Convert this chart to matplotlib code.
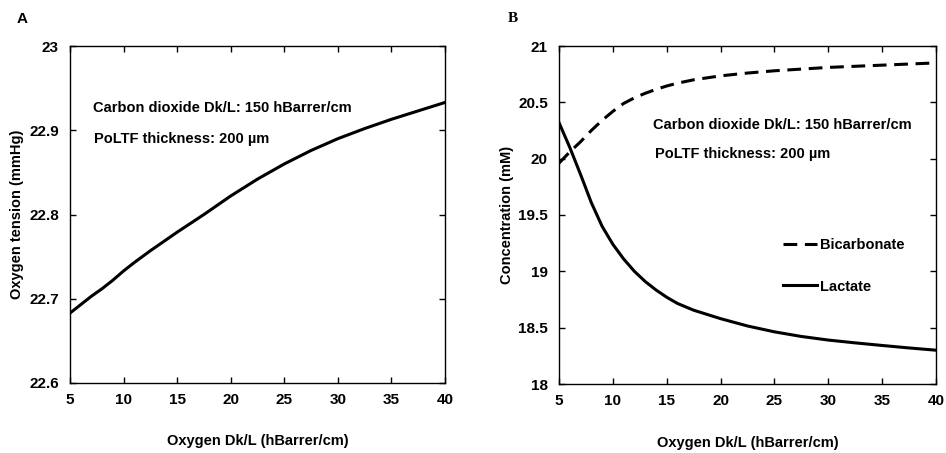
import numpy as np
import matplotlib
matplotlib.use('Agg')
import matplotlib.pyplot as plt

plt.rcParams['font.family'] = ['Liberation Sans', 'DejaVu Sans']
plt.rcParams['font.weight'] = 'bold'

# 数据
dk_a = [5, 6, 7, 8, 9, 10, 11, 12.5, 15, 17.5, 20, 22.5, 25, 27.5, 30, 32.5, 35, 37.5, 40]
o2_tension = [22.683, 22.693, 22.703, 22.712, 22.722, 22.733, 22.743, 22.757, 22.779,
              22.800, 22.822, 22.842, 22.860, 22.876, 22.890, 22.902, 22.913, 22.923, 22.933]

dk_b = [5, 6, 7, 8, 9, 10, 11, 12, 13, 14, 15, 16, 17.5, 20, 22.5, 25, 27.5, 30, 32.5, 35, 37.5, 40]
lactate = [20.32, 20.10, 19.86, 19.61, 19.40, 19.24, 19.11, 19.00, 18.91, 18.835, 18.77, 18.715,
           18.655, 18.58, 18.515, 18.463, 18.422, 18.39, 18.365, 18.342, 18.32, 18.30]
bicarbonate = [19.96, 20.06, 20.15, 20.25, 20.34, 20.42, 20.49, 20.54, 20.58, 20.615, 20.645, 20.67,
               20.70, 20.735, 20.76, 20.78, 20.795, 20.81, 20.82, 20.83, 20.84, 20.85]

note1 = 'Carbon dioxide Dk/L: 150 hBarrer/cm'
note2 = 'PoLTF thickness: 200 µm'

fig = plt.figure(figsize=(9.46, 4.53), dpi=100)
W, H = 946, 453
axA = fig.add_axes([70 / W, 1 - 383 / H, 375 / W, 337 / H])
axB = fig.add_axes([559 / W, 1 - 384 / H, 377 / W, 338 / H])

for ax in (axA, axB):
    ax.tick_params(direction='in', top=True, right=True, length=4, width=1,
                   labelsize=11)
    ax.tick_params(axis='y', pad=8)
    ax.tick_params(axis='x', pad=7)
    for s in ax.spines.values():
        s.set_linewidth(1.0)
    ax.set_xlim(5, 40)
    ax.set_xticks(range(5, 45, 5))
    ax.set_xlabel('Oxygen Dk/L (hBarrer/cm)', fontsize=10.5, fontweight='bold', labelpad=20)

# 图 A
axA.plot(dk_a, o2_tension, color='black', linewidth=2.2)
axA.set_ylim(22.6, 23)
axA.set_yticks([22.6, 22.7, 22.8, 22.9, 23.0])
axA.set_yticklabels(['22.6', '22.7', '22.8', '22.9', '23'])
axA.set_ylabel('Oxygen tension (mmHg)', fontsize=10.5, fontweight='bold', labelpad=4)
axA.text(0.06, 0.815, note1, transform=axA.transAxes, fontsize=10.5, va='center')
axA.text(0.065, 0.725, note2, transform=axA.transAxes, fontsize=10.5, va='center')

# 图 B
axB.plot(dk_b, bicarbonate, color='black', linewidth=2.2, dashes=(4.5, 2.5), label='Bicarbonate')
axB.plot(dk_b, lactate, color='black', linewidth=2.2, label='Lactate')
axB.set_ylim(18, 21)
axB.set_yticks([18, 18.5, 19, 19.5, 20, 20.5, 21])
axB.set_yticklabels(['18', '18.5', '19', '19.5', '20', '20.5', '21'])
axB.set_ylabel('Concentration (mM)', fontsize=10.5, fontweight='bold', labelpad=3)
axB.text(0.25, 0.765, note1, transform=axB.transAxes, fontsize=10.5, va='center')
axB.text(0.255, 0.68, note2, transform=axB.transAxes, fontsize=10.5, va='center')
axB.legend(frameon=False, loc='center left', bbox_to_anchor=(0.56, 0.35), fontsize=10.5,
           handlelength=2.3, handletextpad=0.2, labelspacing=1.9)

fig.text(17 / W, 1 - 19 / H, 'A', fontsize=11, fontweight='bold', va='center')
fig.text(508 / W, 1 - 19 / H, 'B', fontsize=11, fontweight='bold', va='center',
         family='Liberation Serif')

fig.savefig('out.png', dpi=100)
